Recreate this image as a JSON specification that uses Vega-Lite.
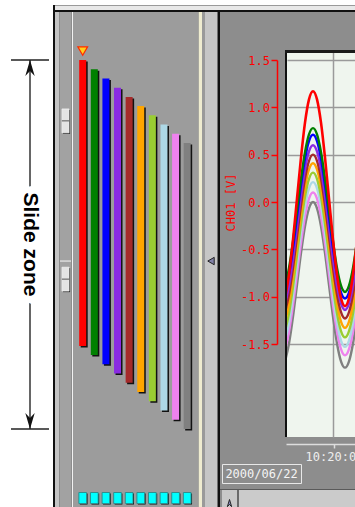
{
  "$schema": "https://vega.github.io/schema/vega-lite/v6.json",
  "padding": 0,
  "background": "#8d8d8d",
  "config": {"view": {"stroke": null}, "concat": {"spacing": 0}},
  "datasets": {
    "channels": [
      {"ch": 1, "name": "CH01", "top": 0, "bottom": 77.5},
      {"ch": 2, "name": "CH02", "top": 2.5, "bottom": 80},
      {"ch": 3, "name": "CH03", "top": 5, "bottom": 82.5},
      {"ch": 4, "name": "CH04", "top": 7.5, "bottom": 85},
      {"ch": 5, "name": "CH05", "top": 10, "bottom": 87.5},
      {"ch": 6, "name": "CH06", "top": 12.5, "bottom": 90},
      {"ch": 7, "name": "CH07", "top": 15, "bottom": 92.5},
      {"ch": 8, "name": "CH08", "top": 17.5, "bottom": 95},
      {"ch": 9, "name": "CH09", "top": 20, "bottom": 97.5},
      {"ch": 10, "name": "CH10", "top": 22.5, "bottom": 100}
    ],
    "zone": [{"from": 0, "to": 100, "label": "Slide zone"}],
    "ends": [{"end": "top", "u": 0}, {"end": "bottom", "u": 100}],
    "handles": [{"u": 16.5}, {"u": 59.4}],
    "cursor": [{"u": 54.5}],
    "yticks": [{"v": -1.5}, {"v": 1.5}],
    "date": [{"date": "2000/06/22"}],
    "buttons": [{"dir": "left"}],
    "wave": [
      {"s":"CH10","t":"2000-06-22T10:19:59.952Z","v":-1.683},{"s":"CH10","t":"2000-06-22T10:19:59.956Z","v":-1.494},{"s":"CH10","t":"2000-06-22T10:19:59.960Z","v":-1.21},{"s":"CH10","t":"2000-06-22T10:19:59.964Z","v":-0.875},{"s":"CH10","t":"2000-06-22T10:19:59.968Z","v":-0.54},{"s":"CH10","t":"2000-06-22T10:19:59.972Z","v":-0.256},{"s":"CH10","t":"2000-06-22T10:19:59.976Z","v":-0.067},{"s":"CH10","t":"2000-06-22T10:19:59.980Z","v":0.0},{"s":"CH10","t":"2000-06-22T10:19:59.984Z","v":-0.067},{"s":"CH10","t":"2000-06-22T10:19:59.988Z","v":-0.256},{"s":"CH10","t":"2000-06-22T10:19:59.992Z","v":-0.54},{"s":"CH10","t":"2000-06-22T10:19:59.996Z","v":-0.875},{"s":"CH10","t":"2000-06-22T10:20:00.000Z","v":-1.21},{"s":"CH10","t":"2000-06-22T10:20:00.004Z","v":-1.494},{"s":"CH10","t":"2000-06-22T10:20:00.008Z","v":-1.683},{"s":"CH10","t":"2000-06-22T10:20:00.012Z","v":-1.75},{"s":"CH10","t":"2000-06-22T10:20:00.016Z","v":-1.683},{"s":"CH10","t":"2000-06-22T10:20:00.020Z","v":-1.494},{"s":"CH10","t":"2000-06-22T10:20:00.024Z","v":-1.21},
      {"s":"CH09","t":"2000-06-22T10:19:59.952Z","v":-1.555},{"s":"CH09","t":"2000-06-22T10:19:59.956Z","v":-1.368},{"s":"CH09","t":"2000-06-22T10:19:59.960Z","v":-1.089},{"s":"CH09","t":"2000-06-22T10:19:59.964Z","v":-0.76},{"s":"CH09","t":"2000-06-22T10:19:59.968Z","v":-0.431},{"s":"CH09","t":"2000-06-22T10:19:59.972Z","v":-0.152},{"s":"CH09","t":"2000-06-22T10:19:59.976Z","v":0.035},{"s":"CH09","t":"2000-06-22T10:19:59.980Z","v":0.1},{"s":"CH09","t":"2000-06-22T10:19:59.984Z","v":0.035},{"s":"CH09","t":"2000-06-22T10:19:59.988Z","v":-0.152},{"s":"CH09","t":"2000-06-22T10:19:59.992Z","v":-0.431},{"s":"CH09","t":"2000-06-22T10:19:59.996Z","v":-0.76},{"s":"CH09","t":"2000-06-22T10:20:00.000Z","v":-1.089},{"s":"CH09","t":"2000-06-22T10:20:00.004Z","v":-1.368},{"s":"CH09","t":"2000-06-22T10:20:00.008Z","v":-1.555},{"s":"CH09","t":"2000-06-22T10:20:00.012Z","v":-1.62},{"s":"CH09","t":"2000-06-22T10:20:00.016Z","v":-1.555},{"s":"CH09","t":"2000-06-22T10:20:00.020Z","v":-1.368},{"s":"CH09","t":"2000-06-22T10:20:00.024Z","v":-1.089},
      {"s":"CH08","t":"2000-06-22T10:19:59.952Z","v":-1.464},{"s":"CH08","t":"2000-06-22T10:19:59.956Z","v":-1.275},{"s":"CH08","t":"2000-06-22T10:19:59.960Z","v":-0.993},{"s":"CH08","t":"2000-06-22T10:19:59.964Z","v":-0.66},{"s":"CH08","t":"2000-06-22T10:19:59.968Z","v":-0.327},{"s":"CH08","t":"2000-06-22T10:19:59.972Z","v":-0.045},{"s":"CH08","t":"2000-06-22T10:19:59.976Z","v":0.144},{"s":"CH08","t":"2000-06-22T10:19:59.980Z","v":0.21},{"s":"CH08","t":"2000-06-22T10:19:59.984Z","v":0.144},{"s":"CH08","t":"2000-06-22T10:19:59.988Z","v":-0.045},{"s":"CH08","t":"2000-06-22T10:19:59.992Z","v":-0.327},{"s":"CH08","t":"2000-06-22T10:19:59.996Z","v":-0.66},{"s":"CH08","t":"2000-06-22T10:20:00.000Z","v":-0.993},{"s":"CH08","t":"2000-06-22T10:20:00.004Z","v":-1.275},{"s":"CH08","t":"2000-06-22T10:20:00.008Z","v":-1.464},{"s":"CH08","t":"2000-06-22T10:20:00.012Z","v":-1.53},{"s":"CH08","t":"2000-06-22T10:20:00.016Z","v":-1.464},{"s":"CH08","t":"2000-06-22T10:20:00.020Z","v":-1.275},{"s":"CH08","t":"2000-06-22T10:20:00.024Z","v":-0.993},
      {"s":"CH07","t":"2000-06-22T10:19:59.952Z","v":-1.364},{"s":"CH07","t":"2000-06-22T10:19:59.956Z","v":-1.175},{"s":"CH07","t":"2000-06-22T10:19:59.960Z","v":-0.893},{"s":"CH07","t":"2000-06-22T10:19:59.964Z","v":-0.56},{"s":"CH07","t":"2000-06-22T10:19:59.968Z","v":-0.227},{"s":"CH07","t":"2000-06-22T10:19:59.972Z","v":0.055},{"s":"CH07","t":"2000-06-22T10:19:59.976Z","v":0.244},{"s":"CH07","t":"2000-06-22T10:19:59.980Z","v":0.31},{"s":"CH07","t":"2000-06-22T10:19:59.984Z","v":0.244},{"s":"CH07","t":"2000-06-22T10:19:59.988Z","v":0.055},{"s":"CH07","t":"2000-06-22T10:19:59.992Z","v":-0.227},{"s":"CH07","t":"2000-06-22T10:19:59.996Z","v":-0.56},{"s":"CH07","t":"2000-06-22T10:20:00.000Z","v":-0.893},{"s":"CH07","t":"2000-06-22T10:20:00.004Z","v":-1.175},{"s":"CH07","t":"2000-06-22T10:20:00.008Z","v":-1.364},{"s":"CH07","t":"2000-06-22T10:20:00.012Z","v":-1.43},{"s":"CH07","t":"2000-06-22T10:20:00.016Z","v":-1.364},{"s":"CH07","t":"2000-06-22T10:20:00.020Z","v":-1.175},{"s":"CH07","t":"2000-06-22T10:20:00.024Z","v":-0.893},
      {"s":"CH06","t":"2000-06-22T10:19:59.952Z","v":-1.264},{"s":"CH06","t":"2000-06-22T10:19:59.956Z","v":-1.075},{"s":"CH06","t":"2000-06-22T10:19:59.960Z","v":-0.793},{"s":"CH06","t":"2000-06-22T10:19:59.964Z","v":-0.46},{"s":"CH06","t":"2000-06-22T10:19:59.968Z","v":-0.127},{"s":"CH06","t":"2000-06-22T10:19:59.972Z","v":0.155},{"s":"CH06","t":"2000-06-22T10:19:59.976Z","v":0.344},{"s":"CH06","t":"2000-06-22T10:19:59.980Z","v":0.41},{"s":"CH06","t":"2000-06-22T10:19:59.984Z","v":0.344},{"s":"CH06","t":"2000-06-22T10:19:59.988Z","v":0.155},{"s":"CH06","t":"2000-06-22T10:19:59.992Z","v":-0.127},{"s":"CH06","t":"2000-06-22T10:19:59.996Z","v":-0.46},{"s":"CH06","t":"2000-06-22T10:20:00.000Z","v":-0.793},{"s":"CH06","t":"2000-06-22T10:20:00.004Z","v":-1.075},{"s":"CH06","t":"2000-06-22T10:20:00.008Z","v":-1.264},{"s":"CH06","t":"2000-06-22T10:20:00.012Z","v":-1.33},{"s":"CH06","t":"2000-06-22T10:20:00.016Z","v":-1.264},{"s":"CH06","t":"2000-06-22T10:20:00.020Z","v":-1.075},{"s":"CH06","t":"2000-06-22T10:20:00.024Z","v":-0.793},
      {"s":"CH05","t":"2000-06-22T10:19:59.952Z","v":-1.164},{"s":"CH05","t":"2000-06-22T10:19:59.956Z","v":-0.977},{"s":"CH05","t":"2000-06-22T10:19:59.960Z","v":-0.696},{"s":"CH05","t":"2000-06-22T10:19:59.964Z","v":-0.365},{"s":"CH05","t":"2000-06-22T10:19:59.968Z","v":-0.034},{"s":"CH05","t":"2000-06-22T10:19:59.972Z","v":0.247},{"s":"CH05","t":"2000-06-22T10:19:59.976Z","v":0.434},{"s":"CH05","t":"2000-06-22T10:19:59.980Z","v":0.5},{"s":"CH05","t":"2000-06-22T10:19:59.984Z","v":0.434},{"s":"CH05","t":"2000-06-22T10:19:59.988Z","v":0.247},{"s":"CH05","t":"2000-06-22T10:19:59.992Z","v":-0.034},{"s":"CH05","t":"2000-06-22T10:19:59.996Z","v":-0.365},{"s":"CH05","t":"2000-06-22T10:20:00.000Z","v":-0.696},{"s":"CH05","t":"2000-06-22T10:20:00.004Z","v":-0.977},{"s":"CH05","t":"2000-06-22T10:20:00.008Z","v":-1.164},{"s":"CH05","t":"2000-06-22T10:20:00.012Z","v":-1.23},{"s":"CH05","t":"2000-06-22T10:20:00.016Z","v":-1.164},{"s":"CH05","t":"2000-06-22T10:20:00.020Z","v":-0.977},{"s":"CH05","t":"2000-06-22T10:20:00.024Z","v":-0.696},
      {"s":"CH04","t":"2000-06-22T10:19:59.952Z","v":-1.074},{"s":"CH04","t":"2000-06-22T10:19:59.956Z","v":-0.885},{"s":"CH04","t":"2000-06-22T10:19:59.960Z","v":-0.603},{"s":"CH04","t":"2000-06-22T10:19:59.964Z","v":-0.27},{"s":"CH04","t":"2000-06-22T10:19:59.968Z","v":0.063},{"s":"CH04","t":"2000-06-22T10:19:59.972Z","v":0.345},{"s":"CH04","t":"2000-06-22T10:19:59.976Z","v":0.534},{"s":"CH04","t":"2000-06-22T10:19:59.980Z","v":0.6},{"s":"CH04","t":"2000-06-22T10:19:59.984Z","v":0.534},{"s":"CH04","t":"2000-06-22T10:19:59.988Z","v":0.345},{"s":"CH04","t":"2000-06-22T10:19:59.992Z","v":0.063},{"s":"CH04","t":"2000-06-22T10:19:59.996Z","v":-0.27},{"s":"CH04","t":"2000-06-22T10:20:00.000Z","v":-0.603},{"s":"CH04","t":"2000-06-22T10:20:00.004Z","v":-0.885},{"s":"CH04","t":"2000-06-22T10:20:00.008Z","v":-1.074},{"s":"CH04","t":"2000-06-22T10:20:00.012Z","v":-1.14},{"s":"CH04","t":"2000-06-22T10:20:00.016Z","v":-1.074},{"s":"CH04","t":"2000-06-22T10:20:00.020Z","v":-0.885},{"s":"CH04","t":"2000-06-22T10:20:00.024Z","v":-0.603},
      {"s":"CH03","t":"2000-06-22T10:19:59.952Z","v":-0.954},{"s":"CH03","t":"2000-06-22T10:19:59.956Z","v":-0.767},{"s":"CH03","t":"2000-06-22T10:19:59.960Z","v":-0.486},{"s":"CH03","t":"2000-06-22T10:19:59.964Z","v":-0.155},{"s":"CH03","t":"2000-06-22T10:19:59.968Z","v":0.176},{"s":"CH03","t":"2000-06-22T10:19:59.972Z","v":0.457},{"s":"CH03","t":"2000-06-22T10:19:59.976Z","v":0.644},{"s":"CH03","t":"2000-06-22T10:19:59.980Z","v":0.71},{"s":"CH03","t":"2000-06-22T10:19:59.984Z","v":0.644},{"s":"CH03","t":"2000-06-22T10:19:59.988Z","v":0.457},{"s":"CH03","t":"2000-06-22T10:19:59.992Z","v":0.176},{"s":"CH03","t":"2000-06-22T10:19:59.996Z","v":-0.155},{"s":"CH03","t":"2000-06-22T10:20:00.000Z","v":-0.486},{"s":"CH03","t":"2000-06-22T10:20:00.004Z","v":-0.767},{"s":"CH03","t":"2000-06-22T10:20:00.008Z","v":-0.954},{"s":"CH03","t":"2000-06-22T10:20:00.012Z","v":-1.02},{"s":"CH03","t":"2000-06-22T10:20:00.016Z","v":-0.954},{"s":"CH03","t":"2000-06-22T10:20:00.020Z","v":-0.767},{"s":"CH03","t":"2000-06-22T10:20:00.024Z","v":-0.486},
      {"s":"CH02","t":"2000-06-22T10:19:59.952Z","v":-0.884},{"s":"CH02","t":"2000-06-22T10:19:59.956Z","v":-0.697},{"s":"CH02","t":"2000-06-22T10:19:59.960Z","v":-0.416},{"s":"CH02","t":"2000-06-22T10:19:59.964Z","v":-0.085},{"s":"CH02","t":"2000-06-22T10:19:59.968Z","v":0.246},{"s":"CH02","t":"2000-06-22T10:19:59.972Z","v":0.527},{"s":"CH02","t":"2000-06-22T10:19:59.976Z","v":0.714},{"s":"CH02","t":"2000-06-22T10:19:59.980Z","v":0.78},{"s":"CH02","t":"2000-06-22T10:19:59.984Z","v":0.714},{"s":"CH02","t":"2000-06-22T10:19:59.988Z","v":0.527},{"s":"CH02","t":"2000-06-22T10:19:59.992Z","v":0.246},{"s":"CH02","t":"2000-06-22T10:19:59.996Z","v":-0.085},{"s":"CH02","t":"2000-06-22T10:20:00.000Z","v":-0.416},{"s":"CH02","t":"2000-06-22T10:20:00.004Z","v":-0.697},{"s":"CH02","t":"2000-06-22T10:20:00.008Z","v":-0.884},{"s":"CH02","t":"2000-06-22T10:20:00.012Z","v":-0.95},{"s":"CH02","t":"2000-06-22T10:20:00.016Z","v":-0.884},{"s":"CH02","t":"2000-06-22T10:20:00.020Z","v":-0.697},{"s":"CH02","t":"2000-06-22T10:20:00.024Z","v":-0.416},
      {"s":"CH01","t":"2000-06-22T10:19:59.952Z","v":-1.014},{"s":"CH01","t":"2000-06-22T10:19:59.956Z","v":-0.768},{"s":"CH01","t":"2000-06-22T10:19:59.960Z","v":-0.399},{"s":"CH01","t":"2000-06-22T10:19:59.964Z","v":0.035},{"s":"CH01","t":"2000-06-22T10:19:59.968Z","v":0.469},{"s":"CH01","t":"2000-06-22T10:19:59.972Z","v":0.838},{"s":"CH01","t":"2000-06-22T10:19:59.976Z","v":1.084},{"s":"CH01","t":"2000-06-22T10:19:59.980Z","v":1.17},{"s":"CH01","t":"2000-06-22T10:19:59.984Z","v":1.084},{"s":"CH01","t":"2000-06-22T10:19:59.988Z","v":0.838},{"s":"CH01","t":"2000-06-22T10:19:59.992Z","v":0.469},{"s":"CH01","t":"2000-06-22T10:19:59.996Z","v":0.035},{"s":"CH01","t":"2000-06-22T10:20:00.000Z","v":-0.399},{"s":"CH01","t":"2000-06-22T10:20:00.004Z","v":-0.768},{"s":"CH01","t":"2000-06-22T10:20:00.008Z","v":-1.014},{"s":"CH01","t":"2000-06-22T10:20:00.012Z","v":-1.1},{"s":"CH01","t":"2000-06-22T10:20:00.016Z","v":-1.014},{"s":"CH01","t":"2000-06-22T10:20:00.020Z","v":-0.768},{"s":"CH01","t":"2000-06-22T10:20:00.024Z","v":-0.399}
    ]
  },
  "spacing": 0,
  "hconcat": [
    {
      "width": 53, "height": 507,
      "view": {"fill": "#ffffff"},
      "layer": [
        {"data": {"name": "zone"}, "mark": {"type": "rule", "color": "#333333", "strokeWidth": 1.5, "xOffset": 3.5},
         "encoding": {"y": {"field": "from", "type": "quantitative", "scale": {"domain": [-16.265, 121.17], "reverse": true, "nice": false, "zero": false, "padding": 0}, "axis": null}, "y2": {"field": "to"}}},
        {"data": {"name": "ends"}, "mark": {"type": "tick", "color": "#222222", "thickness": 1.5, "size": 38, "opacity": 1, "xOffset": 3.5},
         "encoding": {"y": {"field": "u", "type": "quantitative", "axis": null}}},
        {"data": {"name": "ends"}, "mark": {"type": "point", "filled": true, "color": "#111111", "size": 400, "opacity": 1, "xOffset": 3.5},
         "encoding": {"y": {"field": "u", "type": "quantitative", "axis": null},
                      "shape": {"field": "end", "type": "nominal", "scale": {"domain": ["top", "bottom"], "range": ["M0,0L0.47,1.6L0,1.1L-0.47,1.6Z", "M0,0L0.47,-1.6L0,-1.1L-0.47,-1.6Z"]}, "legend": null}}},
        {"data": {"name": "zone"}, "mark": {"type": "text", "angle": 90, "font": "Liberation Sans", "fontWeight": "bold", "fontSize": 21, "fill": "#ffffff", "stroke": "#ffffff", "strokeWidth": 12, "xOffset": 3.5, "align": "center", "baseline": "middle"},
         "encoding": {"y": {"datum": 50, "type": "quantitative"}, "text": {"field": "label"}}},
        {"data": {"name": "zone"}, "mark": {"type": "text", "angle": 90, "font": "Liberation Sans", "fontWeight": "bold", "fontSize": 21, "fill": "#000000", "xOffset": 3.5, "align": "center", "baseline": "middle"},
         "encoding": {"y": {"datum": 50, "type": "quantitative"}, "text": {"field": "label"}}}
      ]
    },
    {
      "spacing": 0, "bounds": "flush",
      "vconcat": [
        {"width": 2, "height": 5, "data": {"values": []}, "mark": "point", "view": {"fill": "#ffffff"}},
        {"width": 2, "height": 502, "data": {"values": []}, "mark": "point", "view": {"fill": "#111111"}}
      ]
    },
    {
      "spacing": 0,
      "vconcat": [
        {"width": 300, "height": 5, "data": {"values": []}, "mark": "point", "view": {"fill": "#ffffff"}},
        {"width": 300, "height": 1, "data": {"values": []}, "mark": "point", "view": {"fill": "#9a9a9a"}},
        {"width": 300, "height": 4, "data": {"values": []}, "mark": "point", "view": {"fill": "#e8e8e8"}},
        {"width": 300, "height": 2, "data": {"values": []}, "mark": "point", "view": {"fill": "#111111"}},
        {
          "spacing": 0,
          "hconcat": [
            {"width": 4, "height": 495, "data": {"values": []}, "mark": "point", "view": {"fill": "#c4c4c4"}},
            {
              "width": 11, "height": 495, "view": {"fill": "#a2a2a2"},
              "layer": [
                {"data": {"name": "cursor"}, "mark": {"type": "rule", "color": "#dcdcdc", "strokeWidth": 1.5},
                 "encoding": {"y": {"field": "u", "type": "quantitative", "scale": {"domain": [-13.012, 121.17], "reverse": true, "nice": false, "zero": false}, "axis": null}}},
                {"data": {"name": "handles"}, "mark": {"type": "point", "shape": "M-0.3,-1H0.3V1H-0.3Z", "size": 576, "filled": true, "color": "#2a2a2a", "opacity": 1, "xOffset": 1, "yOffset": 1},
                 "encoding": {"y": {"field": "u", "type": "quantitative", "axis": null}}},
                {"data": {"name": "handles"}, "mark": {"type": "point", "shape": "M-0.3,-1H0.3V1H-0.3Z", "size": 576, "filled": true, "fill": "#e4e4e4", "stroke": "#f8f8f8", "strokeWidth": 0.5, "opacity": 1},
                 "encoding": {"y": {"field": "u", "type": "quantitative", "axis": null}}},
                {"data": {"name": "handles"}, "mark": {"type": "point", "shape": "M-0.3,0H0.3", "size": 576, "filled": false, "stroke": "#555555", "strokeWidth": 1, "opacity": 1},
                 "encoding": {"y": {"field": "u", "type": "quantitative", "axis": null}}}
              ]
            },
            {"width": 1, "height": 495, "data": {"values": []}, "mark": "point", "view": {"fill": "#f2f2f2"}},
            {
              "spacing": 0, "bounds": "flush",
              "vconcat": [
                {
                  "width": 125, "height": 477, "view": {"fill": "#9c9c9c"},
                  "data": {"name": "channels"},
                  "layer": [
                    {"mark": {"type": "bar", "size": 7, "color": "#111111", "xOffset": 1.5, "yOffset": 1.5, "y2Offset": 1.5},
                     "encoding": {"x": {"field": "ch", "type": "quantitative", "scale": {"domain": [0.1645, 10.931], "nice": false, "zero": false, "padding": 0}, "axis": null},
                                  "y": {"field": "top", "type": "quantitative", "scale": {"domain": [-13.012, 116.29], "reverse": true, "nice": false, "zero": false, "padding": 0}, "axis": null},
                                  "y2": {"field": "bottom"}}},
                    {"mark": {"type": "bar", "size": 7},
                     "encoding": {"x": {"field": "ch", "type": "quantitative"},
                                  "y": {"field": "top", "type": "quantitative"},
                                  "y2": {"field": "bottom"},
                                  "color": {"field": "name", "type": "nominal", "scale": {"domain": ["CH01","CH02","CH03","CH04","CH05","CH06","CH07","CH08","CH09","CH10"], "range": ["#ff0000","#008000","#0000ff","#8a2be2","#a52a2a","#ffa500","#9acd32","#add8e6","#ee82ee","#808080"]}, "legend": null}}},
                    {"transform": [{"filter": "datum.name == 'CH01'"}],
                     "mark": {"type": "point", "shape": "triangle-down", "size": 95, "filled": true, "fill": "#ffcf1a", "stroke": "#ff2a00", "strokeWidth": 1.2, "opacity": 1, "yOffset": -9},
                     "encoding": {"x": {"field": "ch", "type": "quantitative"}, "y": {"field": "top", "type": "quantitative"}}}
                  ]
                },
                {
                  "width": 125, "height": 18, "view": {"fill": "#9c9c9c"},
                  "data": {"name": "channels"},
                  "layer": [
                    {"mark": {"type": "point", "shape": "M-0.7,-1H0.7V1H-0.7Z", "size": 121, "filled": true, "color": "#111111", "opacity": 1, "xOffset": 1, "yOffset": 1},
                     "encoding": {"x": {"field": "ch", "type": "quantitative", "scale": {"domain": [0.1645, 10.931], "nice": false, "zero": false, "padding": 0}, "axis": null}}},
                    {"mark": {"type": "point", "shape": "M-0.7,-1H0.7V1H-0.7Z", "size": 121, "filled": true, "fill": "#00ffff", "stroke": "#2f8f8f", "strokeWidth": 1, "opacity": 1},
                     "encoding": {"x": {"field": "ch", "type": "quantitative"}}}
                  ]
                }
              ]
            },
            {"width": 1, "height": 495, "data": {"values": []}, "mark": "point", "view": {"fill": "#a8a8a0"}},
            {"width": 3, "height": 495, "data": {"values": []}, "mark": "point", "view": {"fill": "#efecd0"}},
            {"width": 3, "height": 495, "data": {"values": []}, "mark": "point", "view": {"fill": "#9a9a9a"}},
            {
              "width": 12, "height": 495, "view": {"fill": "#c6c6c6"},
              "data": {"name": "cursor"},
              "mark": {"type": "point", "shape": "triangle-left", "size": 55, "filled": true, "fill": "#8282a8", "stroke": "#222222", "strokeWidth": 1, "opacity": 1},
              "encoding": {"y": {"field": "u", "type": "quantitative", "scale": {"domain": [-13.012, 121.17], "reverse": true, "nice": false, "zero": false}, "axis": null}}
            },
            {"width": 1, "height": 495, "data": {"values": []}, "mark": "point", "view": {"fill": "#707070"}},
            {"width": 2, "height": 495, "data": {"values": []}, "mark": "point", "view": {"fill": "#111111"}},
            {
              "spacing": 0,
              "vconcat": [
                {"width": 137, "height": 38, "data": {"values": []}, "mark": "point"},
                {
                  "spacing": 0,
                  "hconcat": [
                    {
                      "spacing": 0,
                      "vconcat": [
                        {"width": 65, "height": 4, "data": {"values": []}, "mark": "point"},
                        {
                          "width": 65, "height": 284,
                          "data": {"name": "yticks"},
                          "mark": {"type": "point", "opacity": 0, "size": 4},
                          "encoding": {"y": {"field": "v", "type": "quantitative", "scale": {"domain": [-1.5, 1.5], "nice": false, "zero": false},
                            "axis": {"orient": "left", "offset": -57, "values": [-1.5, -1, -0.5, 0, 0.5, 1, 1.5], "format": ".1f", "labelExpr": "replace(datum.label, '\u2212', '-')",
                                     "labelColor": "#ff0000", "labelFont": "DejaVu Sans Mono", "labelFontSize": 12, "labelPadding": 1.5,
                                     "tickColor": "#ff0000", "tickSize": 6, "tickWidth": 1.5, "domainColor": "#ff0000", "domainWidth": 1.5, "grid": false,
                                     "title": "CH01 [V]", "titleColor": "#ff0000", "titleFont": "DejaVu Sans Mono", "titleFontSize": 12, "titleFontWeight": "normal", "titlePadding": 3.5}}}
                        },
                        {"width": 65, "height": 88, "data": {"values": []}, "mark": "point"}
                      ]
                    },
                    {
                      "spacing": 0, "bounds": "flush",
                      "vconcat": [
                        {"width": 72, "height": 2, "data": {"values": []}, "mark": "point", "view": {"fill": "#1a1a1a"}},
                        {
                          "spacing": 0, "bounds": "flush",
                          "hconcat": [
                            {"width": 2, "height": 385, "data": {"values": []}, "mark": "point", "view": {"fill": "#111111"}},
                            {
                              "width": 70, "height": 385,
                              "view": {"fill": "#eff5ee"},
                              "data": {"name": "wave"},
                              "layer": [
                                {"transform": [{"filter": "datum.s != 'CH01'"}],
                                 "mark": {"type": "line", "strokeWidth": 2.4, "interpolate": "monotone", "clip": true},
                                 "encoding": {
                                   "x": {"field": "t", "type": "temporal",
                                         "scale": {"type": "utc", "nice": false, "domain": [{"year": 2000, "month": 6, "date": 22, "hours": 10, "minutes": 19, "seconds": 59, "milliseconds": 954, "utc": true}, {"year": 2000, "month": 6, "date": 22, "hours": 10, "minutes": 20, "seconds": 0, "milliseconds": 24, "utc": true}]},
                                         "axis": {"values": [{"year": 2000, "month": 6, "date": 22, "hours": 10, "minutes": 20, "seconds": 0, "milliseconds": 0, "utc": true}],
                                                  "labels": false, "ticks": false, "domain": false, "grid": true, "gridColor": "#9a9a9a", "gridWidth": 1.5, "title": null}},
                                   "y": {"field": "v", "type": "quantitative", "scale": {"domain": [-2.4823, 1.5845], "nice": false, "zero": false},
                                         "axis": {"values": [-1.5, -1, -0.5, 0, 0.5, 1, 1.5], "labels": false, "ticks": false, "domain": false, "grid": true, "gridColor": "#9a9a9a", "gridWidth": 1.5, "title": null}},
                                   "color": {"field": "s", "type": "nominal", "scale": {"domain": ["CH01","CH02","CH03","CH04","CH05","CH06","CH07","CH08","CH09","CH10"], "range": ["#ff0000","#008000","#0000ff","#8a2be2","#a52a2a","#ffa500","#9acd32","#add8e6","#ee82ee","#808080"]}, "legend": null}
                                 }},
                                {"transform": [{"filter": "datum.s == 'CH01'"}],
                                 "mark": {"type": "line", "strokeWidth": 2.6, "interpolate": "monotone", "clip": true},
                                 "encoding": {
                                   "x": {"field": "t", "type": "temporal"},
                                   "y": {"field": "v", "type": "quantitative"},
                                   "color": {"field": "s", "type": "nominal", "legend": null}
                                 }}
                              ]
                            }
                          ]
                        },
                        {"width": 72, "height": 1, "data": {"values": []}, "mark": "point", "view": {"fill": "#1a1a1a"}}
                      ]
                    }
                  ]
                },
                {
                  "spacing": 0,
                  "hconcat": [
                    {"width": 65, "height": 25, "data": {"values": []}, "mark": "point"},
                    {
                      "width": 72, "height": 25,
                      "data": {"name": "wave"},
                      "mark": {"type": "point", "opacity": 0, "size": 1},
                      "encoding": {
                        "x": {"field": "t", "type": "temporal",
                              "scale": {"type": "utc", "nice": false, "domain": [{"year": 2000, "month": 6, "date": 22, "hours": 10, "minutes": 19, "seconds": 59, "milliseconds": 952, "utc": true}, {"year": 2000, "month": 6, "date": 22, "hours": 10, "minutes": 20, "seconds": 0, "milliseconds": 24, "utc": true}]},
                              "axis": {"orient": "bottom", "offset": -19, "values": [{"year": 2000, "month": 6, "date": 22, "hours": 10, "minutes": 20, "seconds": 0, "milliseconds": 0, "utc": true}],
                                       "format": "%H:%M:%S", "labelColor": "#eeeeee", "labelFont": "DejaVu Sans Mono", "labelFontSize": 12, "labelPadding": 3, "labelFlush": false, "labelOverlap": false,
                                       "tickColor": "#dddddd", "tickSize": 4, "tickWidth": 1.5, "domainColor": "#dddddd", "domainWidth": 1.5, "grid": false, "title": null}}
                      }
                    }
                  ]
                },
                {
                  "spacing": 0,
                  "hconcat": [
                    {"width": 1, "height": 19, "data": {"values": []}, "mark": "point"},
                    {"width": 79, "height": 19, "view": {"stroke": "#e8e8e8", "strokeWidth": 1},
                     "data": {"name": "date"},
                     "mark": {"type": "text", "font": "DejaVu Sans Mono", "fontSize": 12, "color": "#f4f4f4"},
                     "encoding": {"text": {"field": "date"}}},
                    {"width": 57, "height": 19, "data": {"values": []}, "mark": "point"}
                  ]
                },
                {"width": 137, "height": 5, "data": {"values": []}, "mark": "point"},
                {"width": 137, "height": 1, "data": {"values": []}, "mark": "point", "view": {"fill": "#5a5a5a"}},
                {
                  "spacing": 0, "bounds": "flush",
                  "hconcat": [
                    {"width": 2, "height": 19, "data": {"values": []}, "mark": "point"},
                    {"width": 15, "height": 19, "view": {"fill": "#c8c8c8"},
                     "data": {"name": "buttons"},
                     "mark": {"type": "point", "filled": true, "fill": "#8c8cc8", "stroke": "#222222", "strokeWidth": 1, "size": 80, "opacity": 1},
                     "encoding": {"shape": {"field": "dir", "type": "nominal", "scale": {"domain": ["left"], "range": ["triangle-left"]}, "legend": null}}},
                    {"width": 2, "height": 19, "data": {"values": []}, "mark": "point", "view": {"fill": "#6a6a6a"}},
                    {"width": 118, "height": 19, "data": {"values": []}, "mark": "point", "view": {"fill": "#cbcbcb"}}
                  ]
                }
              ]
            }
          ]
        }
      ]
    }
  ]
}
